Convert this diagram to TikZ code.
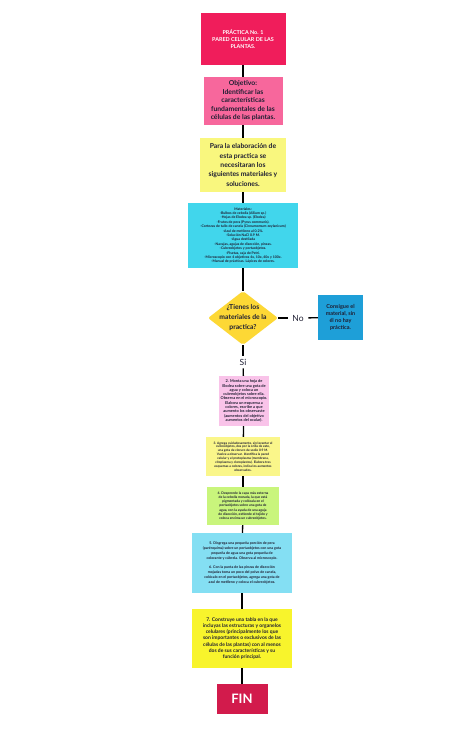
\documentclass[tikz,border=0pt]{standalone}
\usepackage{fontspec}
\setmainfont{Lato}
\usetikzlibrary{shapes.geometric}
\definecolor{ink}{HTML}{1E1E32}
\definecolor{titulo}{HTML}{F01D5B}
\definecolor{objetivo}{HTML}{F7679C}
\definecolor{amarillo}{HTML}{F9F77E}
\definecolor{cian}{HTML}{41D6EC}
\definecolor{rombo}{HTML}{FDD835}
\definecolor{azul}{HTML}{1E9FD8}
\definecolor{rosa}{HTML}{F9C3E9}
\definecolor{amarillob}{HTML}{FAF68A}
\definecolor{verde}{HTML}{C9F57C}
\definecolor{cianb}{HTML}{84DFF3}
\definecolor{amarilloc}{HTML}{F8F42C}
\definecolor{fin}{HTML}{D21B4C}
\begin{document}
\begin{tikzpicture}[x=1pt,y=-1pt,
    caja/.style={rectangle,align=center,inner sep=0pt,text=ink},
    fs/.style 2 args={font=\fontsize{#1}{#2}\selectfont\bfseries},
    link/.style={draw=black,line width=1.3pt}]
  \useasboundingbox[fill=white] (0,0) rectangle (474,741);
  % columna principal
  \node[caja,fill=titulo,text=white,minimum width=85,minimum height=52,fs={5.4}{7}] (titulo) at (243,39) {PRÁCTICA No. 1\\PARED CELULAR DE LAS\\PLANTAS.};
  \node[caja,fill=objetivo,minimum width=79,minimum height=48,fs={6.8}{8.5}] (objetivo) at (243,101) {Objetivo:\\Identificar las\\características\\fundamentales de las\\células de las plantas.};
  \node[caja,fill=amarillo,minimum width=86,minimum height=54,fs={6.8}{9.3}] (prep) at (243,165) {Para la elaboración de\\esta practica se\\necesitaran los\\siguientes materiales y\\soluciones.};
  \node[caja,fill=cian,minimum width=110,minimum height=65,fs={3.5}{4.4}] (materiales) at (243,235.5) {Materiales:\\-Bulbos de cebolla (Allium sp.)\\-Hojas de Elodea sp. (Elodea)\\-Frutos de pera (Pyrus communis).\\-Cortezas de tallo de canela (Cinnamomum zeylanicum)\\-Azul de metileno al 0.2\%.\\-Solución NaCl 0.9 M.\\-Agua destilada\\-Navajas, agujas de disección, pinzas.\\-Cubreobjetos y portaobjetos.\\-Pisetas, caja de Petri.\\-Microscopio con 4 objetivos 4x, 10x, 40x y 100x.\\-Manual de prácticas. Lápices de colores.};
  % decision
  \node[diamond,fill=rombo,minimum width=70,minimum height=54,inner sep=0pt,rounded corners=2pt] (q) at (243,318) {};
  \node[caja,fs={6.8}{10}] (pregunta) at (q) {¿Tienes los\\materiales de la\\practica?};
  \node[text=ink,font=\fontsize{8.5}{10}\selectfont,inner xsep=4.5pt,inner ysep=1pt] (no) at (298,318) {No};
  \node[caja,fill=azul,minimum width=45,minimum height=45,fs={5.5}{6.8}] (consigue) at (340.5,317.5) {Consigue el\\material, sin\\él no hay\\práctica.};
  \node[text=ink,font=\fontsize{8.5}{10}\selectfont,inner xsep=1pt,inner ysep=3pt] (si) at (243,362) {Si};
  % pasos
  \node[caja,fill=rosa,minimum width=50,minimum height=50,fs={3.9}{4.3}] (paso2) at (244,401) {2. Monta una hoja de\\Elodea sobre una gota de\\agua y coloca un\\cubreobjetos sobre ella.\\Observa en el microscopio.\\Elabora un esquema a\\colores, escribe a que\\aumento los observaste\\(aumentos del objetivo\\aumentos del ocular).};
  \node[caja,fill=amarillob,minimum width=74,minimum height=39,fs={3.2}{3.9}] (paso3) at (243,456.5) {3. Agrega cuidadosamente, sin levantar el\\cubreobjetos, dos por la orilla de este,\\una gota de cloruro de sodio 0.9 M.\\Vuelve a observar. Identifica la pared\\celular y el protoplasma (membrana,\\citoplasma y cloroplastos). Elabora tres\\esquemas a colores, indica los aumentos\\observados.};
  \node[caja,fill=verde,minimum width=72,minimum height=38,fs={3.4}{4.3}] (paso4) at (243,506) {4. Desprende la capa más externa\\de la cebolla morada, la que está\\pigmentada y colócala en el\\portaobjetos sobre una gota de\\agua, con la ayuda de una aguja\\de disección, extiende el tejido y\\coloca encima un cubreobjetos.};
  \node[caja,fill=cianb,minimum width=100,minimum height=60,fs={3.6}{4.9}] (paso56) at (242,563) {5. Disgrega una pequeña porción de pera\\(parénquima) sobre un portaobjetos con una gota\\pequeña de agua una gota pequeña de\\colorante y cúbrela. Observa al microscopio.\\[4.9pt]6. Con la punta de las pinzas de disección\\mojadas toma un poco del polvo de canela,\\colócalo en el portaobjetos, agrega una gota de\\azul de metileno y coloca el cubreobjetos.};
  \node[caja,fill=amarilloc,minimum width=100,minimum height=59,fs={5}{6.2}] (paso7) at (242,638.5) {7. Construye una tabla en la que\\incluyas las estructuras y organelos\\celulares (principalmente los que\\son importantes o exclusivos de las\\células de las plantas) con al menos\\dos de sus características y su\\función principal.};
  \node[caja,fill=fin,text=white,minimum width=51,minimum height=30,fs={13}{15}] (fin) at (242,699) {FIN};
  % conectores
  \draw[link] (titulo) -- (objetivo);
  \draw[link] (objetivo) -- (prep);
  \draw[link] (prep) -- (materiales);
  \draw[link] (materiales) -- (q);
  \draw[link] (q.east) -- (no);
  \draw[link] (no) -- (consigue);
  \draw[link] (q.south) -- (si);
  \draw[link] (si) -- (paso2);
  \draw[link] (paso2) -- (paso3);
  \draw[link] (paso3) -- (paso4);
  \draw[link] (paso4) -- (paso56);
  \draw[link] (paso56) -- (paso7);
  \draw[link] (paso7) -- (fin);
\end{tikzpicture}
\end{document}
